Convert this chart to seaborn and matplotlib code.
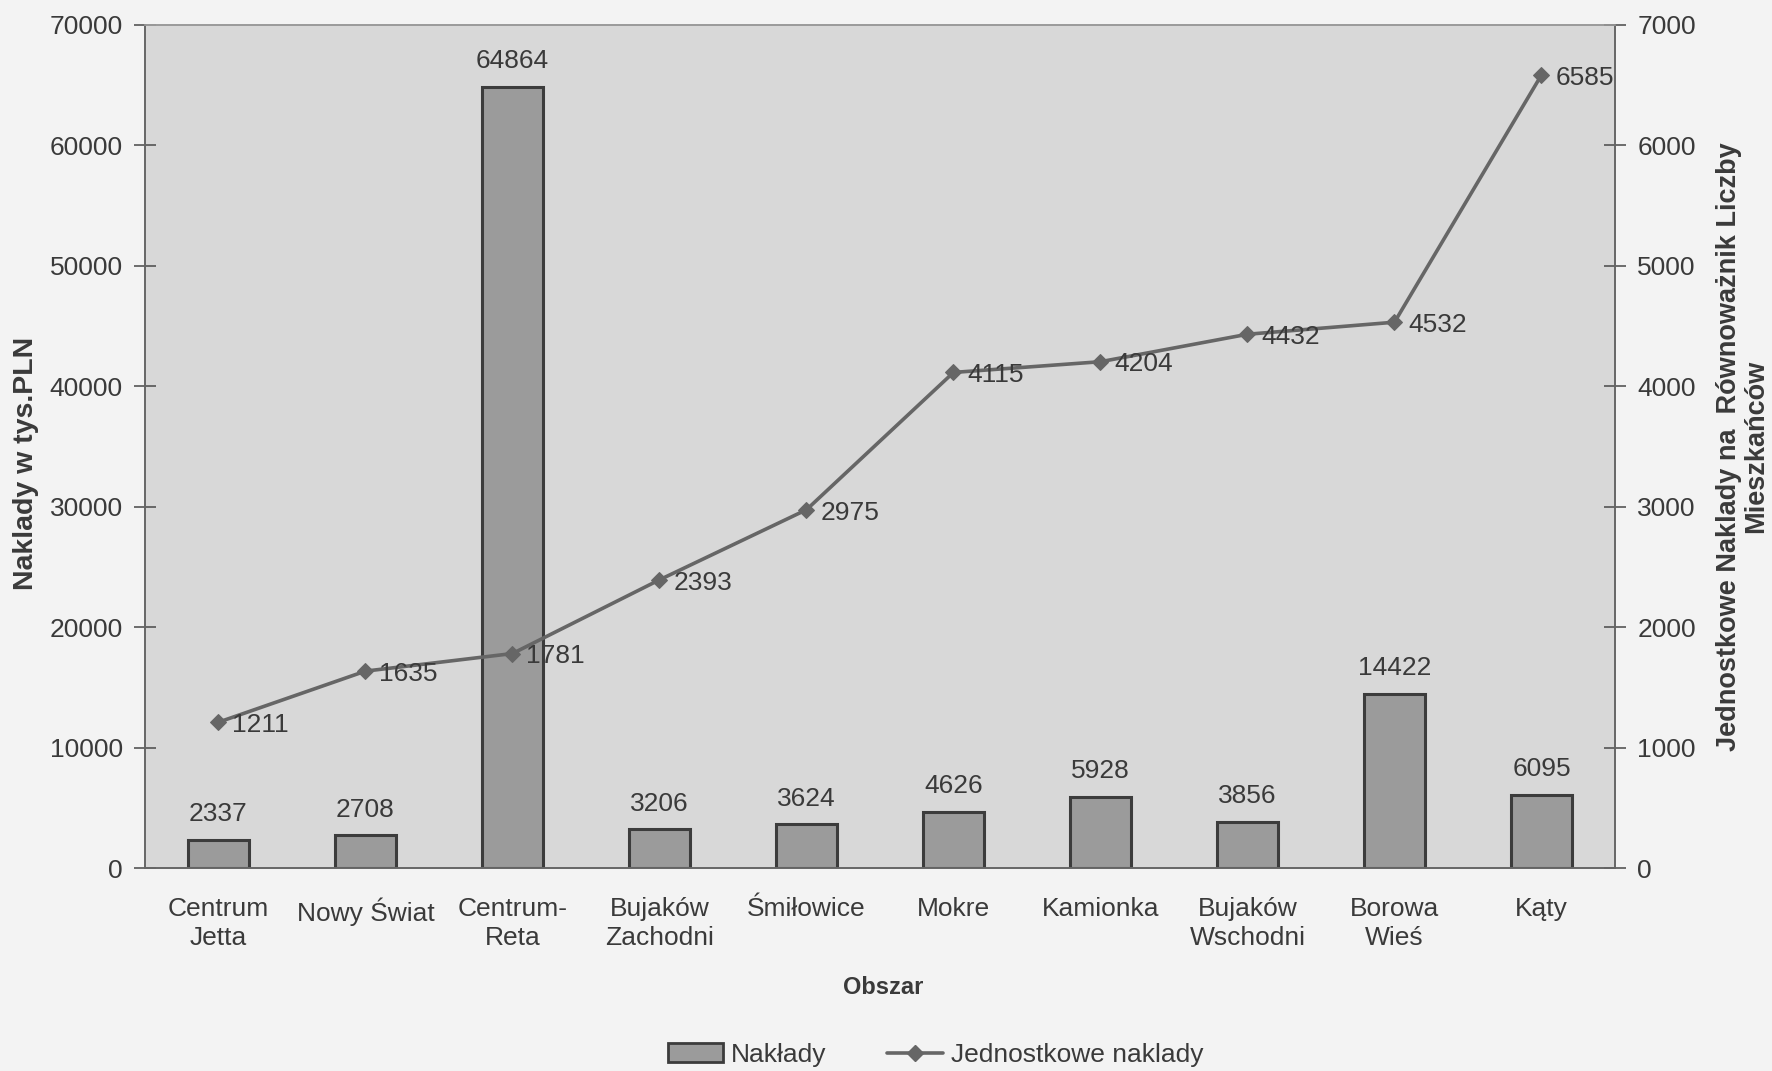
import numpy as np
import pandas as pd
import seaborn as sns
import matplotlib.pyplot as plt
from matplotlib.patches import Patch
from matplotlib.lines import Line2D

# area names and the two series
obszary = ["Centrum\nJetta", "Nowy Świat", "Centrum-\nReta", "Bujaków\nZachodni", "Śmiłowice",
           "Mokre", "Kamionka", "Bujaków\nWschodni", "Borowa\nWieś", "Kąty"]
naklady = [2337, 2708, 64864, 3206, 3624, 4626, 5928, 3856, 14422, 6095]
jednostkowe = [1211, 1635, 1781, 2393, 2975, 4115, 4204, 4432, 4532, 6585]

left_ticks = [0, 10000, 20000, 30000, 40000, 50000, 60000, 70000]
right_ticks = [0, 1000, 2000, 3000, 4000, 5000, 6000, 7000]

txt = "#3a3a3a"
fig_bg = "#f3f3f3"
plot_bg = "#d8d8d8"
bar_col = "#9b9b9b"
bar_edge = "#3c3c3c"
line_col = "#666666"
fs = 19

sns.set_style("white")
plt.rcParams['font.family'] = ['Liberation Sans', 'DejaVu Sans']
plt.rcParams['text.color'] = txt
plt.rcParams['axes.labelcolor'] = txt
plt.rcParams['xtick.color'] = "#555555"
plt.rcParams['ytick.color'] = "#555555"
plt.rcParams['xtick.labelcolor'] = txt
plt.rcParams['ytick.labelcolor'] = txt

df = pd.DataFrame({"Obszar": obszary, "Naklady": naklady, "Jednostkowe": jednostkowe})
df["pos"] = np.arange(len(df))

fig = plt.figure(figsize=(17.72, 10.71), dpi=100, facecolor=fig_bg)
ax = fig.add_axes([0.0818, 0.1895, 0.8296, 0.7872])
ax.set_facecolor(plot_bg)

sns.barplot(ax=ax, data=df, x="Obszar", y="Naklady", color=bar_col, saturation=1,
            edgecolor=bar_edge, linewidth=2.2, width=0.41)

ax.set_ylim(0, 70000)
ax.set_xlim(-0.5, len(df) - 0.5)
ax.set_yticks(left_ticks)
ax.set_yticklabels([str(t) for t in left_ticks], fontsize=fs)
ax.set_xticks(df["pos"])
ax.set_xticklabels(obszary, fontsize=fs, linespacing=1.25)
ax.set_xticks(np.arange(-0.5, len(df), 1), minor=True)
ax.tick_params(axis="x", which="major", length=0, pad=21)
ax.tick_params(axis="x", which="minor", direction="inout", length=18, width=1.2)
ax.tick_params(axis="y", direction="inout", length=16, width=1.2, pad=8)

for x, y in zip(df["pos"], df["Naklady"]):
    ax.annotate(str(y), (x, y), textcoords="offset points", xytext=(0, 10),
                ha="center", va="bottom", fontsize=fs, color=txt)

ax.set_xlabel("Obszar", fontsize=17, fontweight="bold")
ax.xaxis.set_label_coords(0.502, -0.128)
ax.set_ylabel("Naklady w tys.PLN", fontsize=20.5, fontweight="bold")
ax.yaxis.set_label_coords(-0.072, 0.48)

ax2 = ax.twinx()
sns.lineplot(ax=ax2, data=df, x="pos", y="Jednostkowe", color=line_col, linewidth=2.6,
             marker="D", markersize=8.5, markeredgecolor=line_col, markerfacecolor=line_col)
ax2.set_ylim(0, 7000)
ax2.set_xlim(-0.5, len(df) - 0.5)
ax2.set_yticks(right_ticks)
ax2.set_yticklabels([str(t) for t in right_ticks], fontsize=fs)
ax2.tick_params(axis="y", direction="inout", length=16, width=1.2, pad=8)
ax2.set_ylabel("Jednostkowe Naklady na  Równoważnik Liczby\nMieszkańców",
               fontsize=19.5, fontweight="bold", linespacing=1.05)
ax2.yaxis.set_label_coords(1.069, 0.5)

for x, y in zip(df["pos"], df["Jednostkowe"]):
    ax2.annotate(str(y), (x, y), textcoords="offset points", xytext=(10, -2),
                 ha="left", va="center", fontsize=fs, color=txt)

for a in (ax, ax2):
    for s in a.spines.values():
        s.set_color("#666666")
        s.set_linewidth(1.2)
ax.spines["top"].set_color("#9a9a9a")
ax2.spines["top"].set_color("#9a9a9a")

handles = [Patch(facecolor=bar_col, edgecolor=bar_edge, linewidth=2.0, label="Nakłady"),
           Line2D([], [], color=line_col, linewidth=2.6, marker="D", markersize=8.5,
                  label="Jednostkowe naklady")]
fig.legend(handles=handles, loc="center", bbox_to_anchor=(0.528, 0.015), ncol=2,
           frameon=False, fontsize=fs, columnspacing=2.3, handlelength=2.1,
           handletextpad=0.3)

fig.savefig("out.png", dpi=100, facecolor=fig_bg)
